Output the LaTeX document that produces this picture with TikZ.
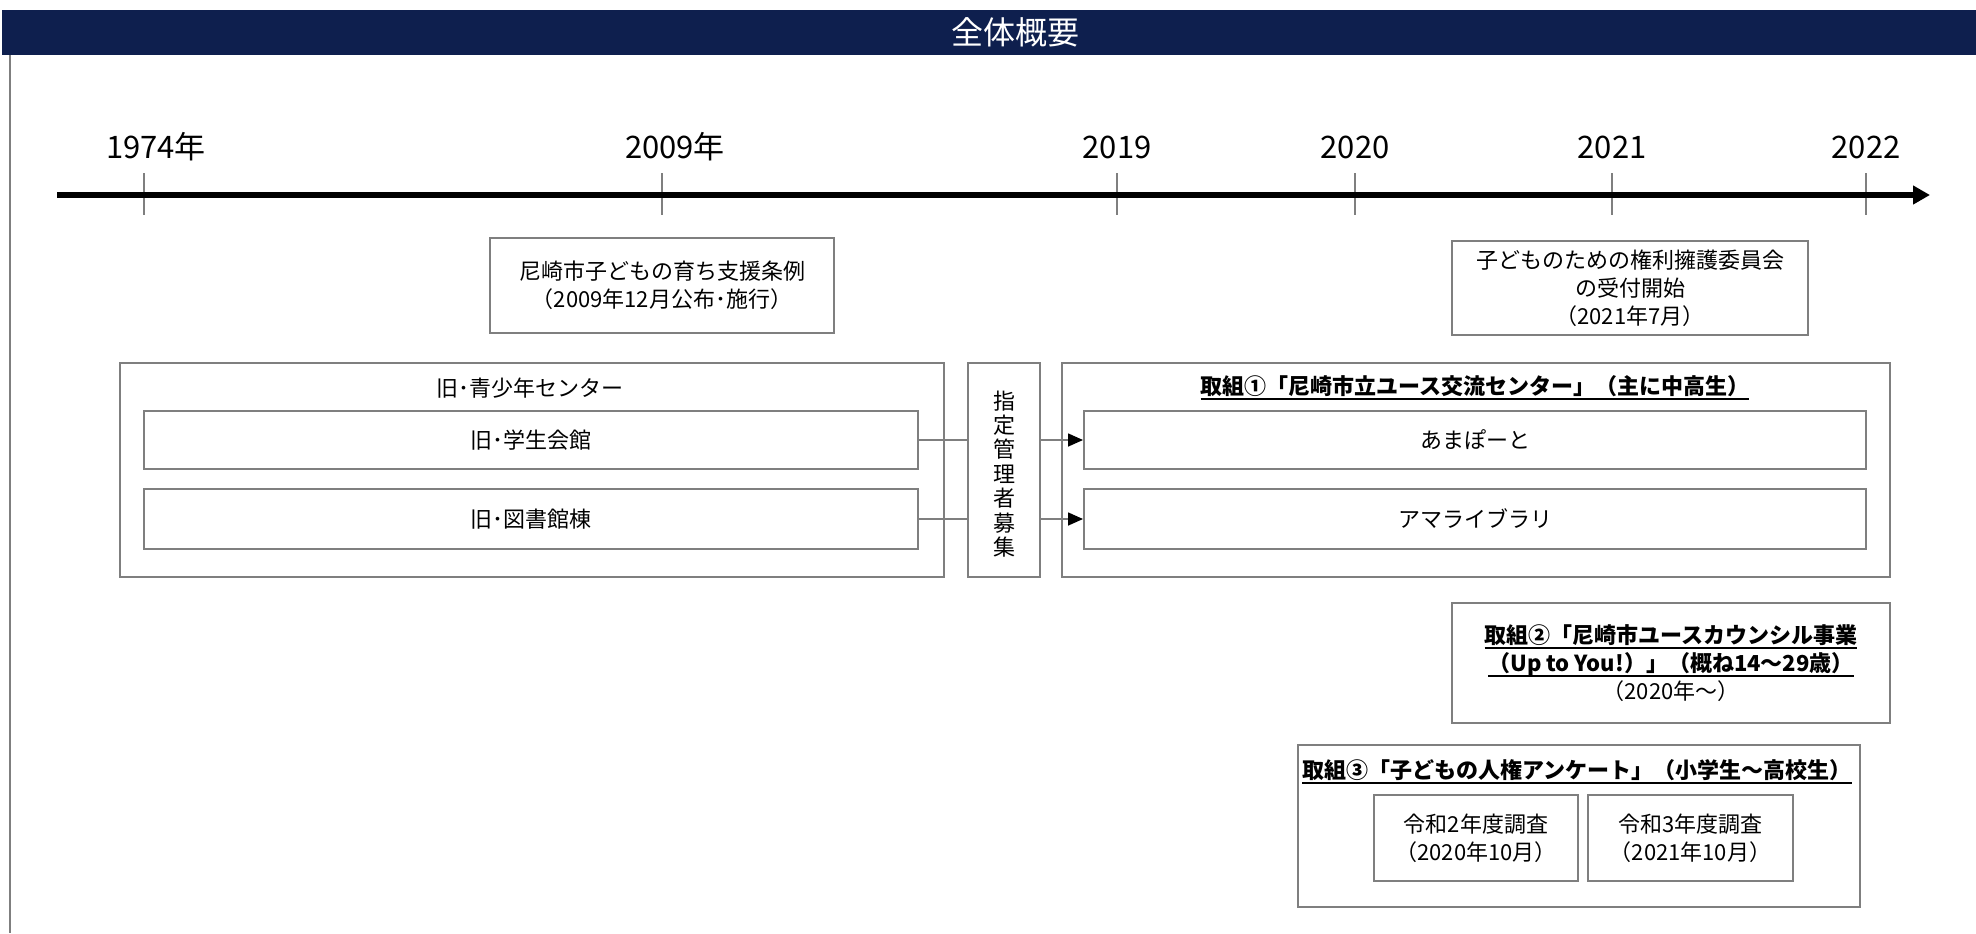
\documentclass[tikz,border=0pt]{standalone}
\usepackage{fontspec}
\setmainfont{Noto Sans CJK JP}
\usetikzlibrary{positioning, arrows.meta}
\definecolor{navy}{RGB}{14,31,78}
\definecolor{boxgray}{RGB}{127,127,127}
\newcommand{\ulbar}[1]{\begingroup\setbox0\hbox{#1}\leavevmode\rlap{\rule[-2.6pt]{\wd0}{0.9pt}}\box0\endgroup}

\begin{document}
\begin{tikzpicture}[
  x=0.5pt, y=-0.5pt,
  font=\fontsize{11}{14}\selectfont,
  box/.style={draw=boxgray, line width=1pt, align=center, inner sep=0pt},
  year/.style={font=\fontsize{15.5}{18}\selectfont},
  tick/.style={draw=boxgray, line width=0.7pt},
  heading/.style={font=\fontsize{11}{14}\selectfont\bfseries},
  link/.style={draw=boxgray, line width=0.8pt},
  linkarrow/.style={link, -{Triangle[length=7.5pt, width=6.5pt, color=black]}},
  timeline/.style={line width=3pt, -{Triangle[length=8.5pt, width=9pt]}}
]
\useasboundingbox (0,0) rectangle (1976,933);

% --- Header ---
\fill[navy] (2,10) rectangle (1976,55);
\node[text=white, font=\fontsize{16}{18}\selectfont] (title) at (1015,32.5) {全体概要};
\draw[boxgray, line width=1pt] (10,55) -- (10,933);

% --- Timeline ---
\node[year] (y1974) at (156,147) {1974年};
\node[year] (y2009) at (675,147) {2009年};
\node[year] (y2019) at (1117,147) {2019};
\node[year] (y2020) at (1355,147) {2020};
\node[year] (y2021) at (1612,147) {2021};
\node[year] (y2022) at (1866,147) {2022};

\draw[tick] (144,173) -- (144,215);
\draw[tick] (662,173) -- (662,215);
\draw[tick] (1117,173) -- (1117,215);
\draw[tick] (1355,173) -- (1355,215);
\draw[tick] (1612,173) -- (1612,215);
\draw[tick] (1866,173) -- (1866,215);

\coordinate (tstart) at (57,195);
\coordinate (tend) at (1930,195);
\draw[timeline] (tstart) -- (tend);

% --- Events ---
\node[box, minimum width=172pt, minimum height=47.5pt] (jorei) at (662,285.5) {尼崎市子どもの育ち支援条例\\（2009年12月公布･施行）};
\node[box, minimum width=178pt, minimum height=47pt] (iinkai) at (1630,288) {子どものための権利擁護委員会\\の受付開始\\（2021年7月）};

% --- Old youth center ---
\node[box, minimum width=412pt, minimum height=107pt] (seishonen) at (532,470) {};
\node (seishonenlabel) at (530,388) {旧･青少年センター};
\node[box, minimum width=387pt, minimum height=29pt] (gakusei) at (531,440) {旧･学生会館};
\node[box, minimum width=387pt, minimum height=30pt] (tosho) at (531,519) {旧･図書館棟};

\node[box, minimum width=36pt, minimum height=107pt] (shitei) at (1004,470) {};
\node[font=\fontsize{11}{12.2}\selectfont, align=center] (shiteilabel) at (1004,474) {指\\定\\管\\理\\者\\募\\集};

% --- Torikumi 1 ---
\node[box, minimum width=414pt, minimum height=107pt] (torikumi1) at (1476,470) {};
\node[heading] (torikumi1label) at (1475,388) {\ulbar{取組①「尼崎市立ユース交流センター」（主に中高生）}};
\node[box, minimum width=391pt, minimum height=29pt] (amaport) at (1475,440) {あまぽーと};
\node[box, minimum width=391pt, minimum height=30pt] (library) at (1475,519) {アマライブラリ};

\draw[link] (gakusei.east) -- (gakusei.east -| shitei.west);
\draw[linkarrow] (shitei.east |- amaport.west) -- (amaport.west);
\draw[link] (tosho.east) -- (tosho.east -| shitei.west);
\draw[linkarrow] (shitei.east |- library.west) -- (library.west);

% --- Torikumi 2 ---
\node[box, minimum width=219pt, minimum height=60pt] (torikumi2) at (1671,663) {\textbf{\ulbar{取組②「尼崎市ユースカウンシル事業}}\\\textbf{\ulbar{（Up to You!）」（概ね14～29歳）}}\\（2020年～）};

% --- Torikumi 3 ---
\node[box, minimum width=281pt, minimum height=81pt] (torikumi3) at (1579,826) {};
\node[heading] (torikumi3label) at (1577,772) {\ulbar{取組③「子どもの人権アンケート」（小学生～高校生）}};
\node[box, minimum width=102pt, minimum height=43pt] (r2) at (1476,838) {令和2年度調査\\（2020年10月）};
\node[box, minimum width=102.5pt, minimum height=43pt] (r3) at (1690.5,838) {令和3年度調査\\（2021年10月）};

\end{tikzpicture}
\end{document}
